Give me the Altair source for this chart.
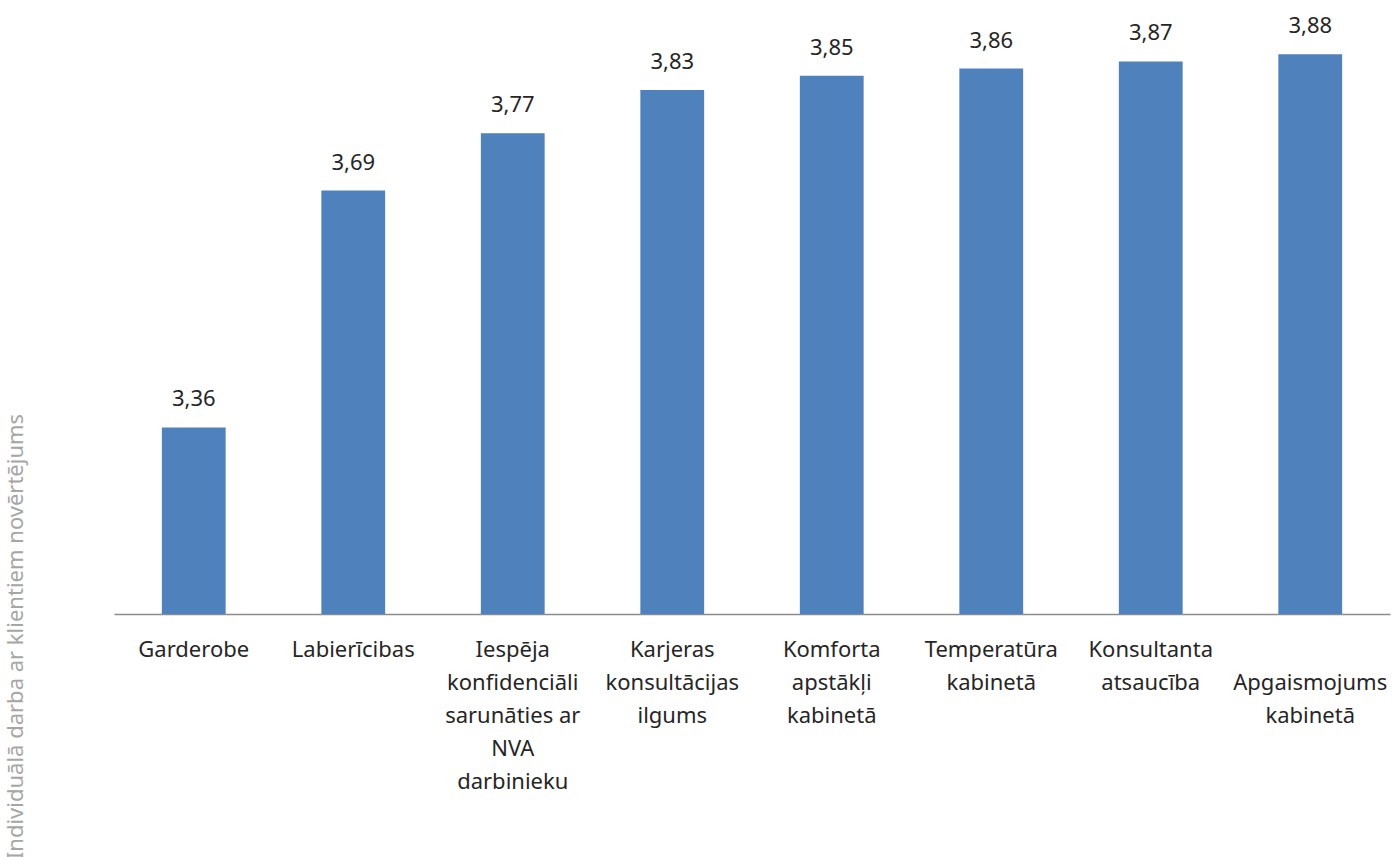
import altair as alt
import pandas as pd

# Categories (line breaks marked with "|") and average ratings
categories = [
    "Garderobe",
    "Labierīcibas",
    "Iespēja|konfidenciāli|sarunāties ar|NVA|darbinieku",
    "Karjeras|konsultācijas|ilgums",
    "Komforta|apstākļi|kabinetā",
    "Temperatūra|kabinetā",
    "Konsultanta|atsaucība",
    " |Apgaismojums|kabinetā",
]
ratings = [3.36, 3.69, 3.77, 3.83, 3.85, 3.86, 3.87, 3.88]

axis_title = "Individuālā darba ar klientiem novērtējums"

df = pd.DataFrame({"kategorija": categories, "vertejums": ratings})

FONT = "Noto Sans"
FS = 22

base = alt.Chart(df).transform_calculate(
    txt="replace(format(datum.vertejums, '.2f'), '.', ',')"
)

x_enc = alt.X(
    "kategorija:N",
    sort=categories,
    scale=alt.Scale(paddingInner=0.6, paddingOuter=0.3),
    axis=alt.Axis(
        title=None,
        labelAngle=0,
        labelExpr="split(datum.value, '|')",
        labelFont=FONT,
        labelFontSize=FS,
        labelColor="#262626",
        labelBaseline="top",
        labelPadding=25,
        labelLineHeight=33,
        labelLimit=0,
        ticks=False,
        domainColor="#8c8c8c",
        domainWidth=1.5,
        labelOverlap=False,
    ),
)

y_scale = alt.Scale(domain=[3.1, 3.95], zero=False, nice=False)

bars = base.mark_bar(color="#4F81BD").encode(
    x=x_enc,
    y=alt.Y(
        "vertejums:Q",
        scale=y_scale,
        axis=alt.Axis(
            title=axis_title,
            labels=False,
            ticks=False,
            domain=False,
            grid=False,
            titleFont=FONT,
            titleFontSize=FS,
            titleFontWeight="normal",
            titleColor="#a6a6a6",
            titleAngle=270,
            titleX=-99,
            titleY=632,
            titleAlign="center",
            titleBaseline="middle",
        ),
    ),
    y2=alt.datum(3.1),
)

labels = base.mark_text(
    font=FONT, fontSize=FS, color="#262626", baseline="middle", dy=-28
).encode(
    x=alt.X("kategorija:N", sort=categories),
    y=alt.Y("vertejums:Q", scale=y_scale),
    text="txt:N",
)

chart = (
    alt.layer(bars, labels)
    .properties(
        width=1276,
        height=610,
        padding={"left": 114, "top": 4, "right": 4, "bottom": 243},
        autosize=alt.AutoSizeParams(type="none"),
        background="white",
    )
    .configure_view(stroke=None)
)

chart.save("out.html", embed_options={"renderer": "svg", "actions": False})
